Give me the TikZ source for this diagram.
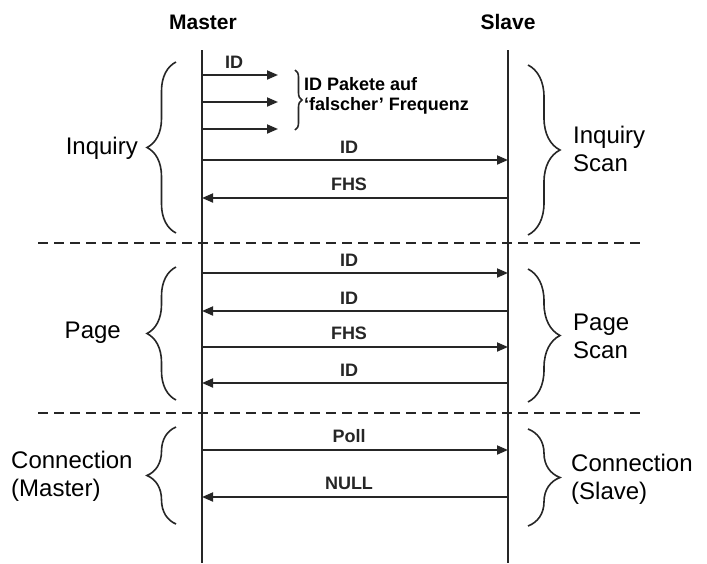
\documentclass[tikz,border=0pt]{standalone}
\usepackage{fontspec}
\setmainfont{Liberation Sans}
\usetikzlibrary{arrows.meta, decorations.pathreplacing}

\begin{document}
\begin{tikzpicture}[x=1pt, y=-1pt,
        life/.style={line width=2pt, black!85},
        msg/.style={-{Triangle[length=11pt, width=9pt]}, line width=1.8pt, black!85},
        lbl/.style={above=6pt, inner sep=0pt, xshift=-6pt, font=\fontsize{18}{20}\selectfont\bfseries},
        head/.style={font=\fontsize{21}{24}\selectfont\bfseries},
        phase/.style={font=\fontsize{24}{28}\selectfont, align=left, inner sep=0pt},
        sep/.style={line width=2.5pt, dash pattern=on 10pt off 6pt, black!85},
        brc/.style={decorate, decoration={brace, amplitude=#1}, line width=1.6pt, black!85}]
    \useasboundingbox (0,0) rectangle (707,563);

    % lifelines
    \node[head] (master) at (203, 22) {Master};
    \node[head] (slave)  at (508, 22) {Slave};
    \coordinate (mtop) at (202, 50);
    \coordinate (mbot) at (202, 563);
    \coordinate (stop) at (508, 50);
    \coordinate (sbot) at (508, 563);
    \draw[life] (mtop) -- (mbot);
    \draw[life] (stop) -- (sbot);

    % phase separators
    \coordinate (sepAl) at (38, 243);
    \coordinate (sepAr) at (640, 243);
    \coordinate (sepBl) at (38, 413);
    \coordinate (sepBr) at (640, 413);
    \draw[sep] (sepAl) -- (sepAr);
    \draw[sep] (sepBl) -- (sepBr);

    % message end points
    \foreach \n/\y in {a/75, b/102, c/129} {
        \coordinate (m\n) at (202, \y);
        \coordinate (p\n) at (278, \y);
    }
    \foreach \n/\y in {d/160, e/198, f/273, g/311, h/347, i/383, j/450, k/497} {
        \coordinate (m\n) at (202, \y);
        \coordinate (s\n) at (508, \y);
    }

    % inquiry
    \draw[msg] (ma) -- node[lbl] {ID} (pa);
    \draw[msg] (mb) -- (pb);
    \draw[msg] (mc) -- (pc);
    \draw[brc=7pt] (295, 70) -- (295, 130);
    \node[anchor=west, align=left, inner sep=0pt, font=\fontsize{18}{19.5}\selectfont\bfseries] (wrong) at (304, 96) {ID Pakete auf\\‘falscher’ Frequenz};
    \draw[msg] (md) -- node[lbl] {ID} (sd);
    \draw[msg] (se) -- node[lbl] {FHS} (me);

    % page
    \draw[msg] (mf) -- node[lbl] {ID} (sf);
    \draw[msg] (sg) -- node[lbl] {ID} (mg);
    \draw[msg] (mh) -- node[lbl] {FHS} (sh);
    \draw[msg] (si) -- node[lbl] {ID} (mi);

    % connection
    \draw[msg] (mj) -- node[lbl] {Poll} (sj);
    \draw[msg] (sk) -- node[lbl] {NULL} (mk);

    % phases master side
    \draw[brc=29pt] (176, 233) -- (176, 62);
    \draw[brc=29pt] (176, 400) -- (176, 267);
    \draw[brc=29pt] (176, 524) -- (176, 427);
    \node[phase, anchor=east] (inq)  at (138, 148) {Inquiry};
    \node[phase, anchor=east] (page) at (121, 333) {Page};
    \node[phase, anchor=west] (conm) at (11, 476) {Connection\\(Master)};

    % phases slave side
    \draw[brc=32pt] (528, 65) -- (528, 235);
    \draw[brc=32pt] (528, 269) -- (528, 402);
    \draw[brc=32pt] (528, 429) -- (528, 526);
    \node[phase, anchor=west] (inqs)  at (573, 149) {Inquiry\\Scan};
    \node[phase, anchor=west] (pages) at (573, 336) {Page\\Scan};
    \node[phase, anchor=west] (cons)  at (571, 479) {Connection\\(Slave)};
\end{tikzpicture}
\end{document}
